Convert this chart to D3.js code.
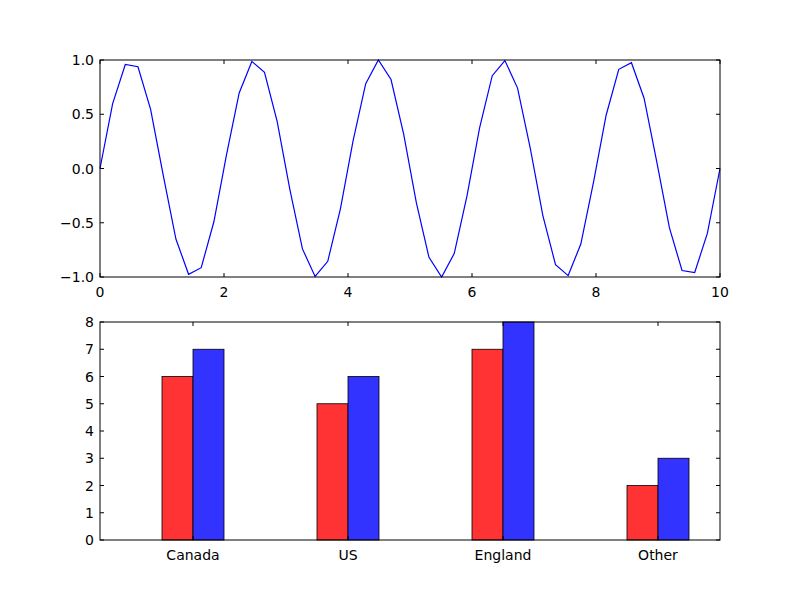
<!DOCTYPE html>
<html><head><meta charset="utf-8">
<script src="https://cdn.jsdelivr.net/npm/d3@7"></script>
<style>body{margin:0;background:#fff}text{font-family:"DejaVu Sans",sans-serif;font-size:14px}</style>
</head><body><svg id="c" width="800" height="600"></svg>
<script>
// top panel: values, x spaced 0..10 over 50 samples
const waveX = d3.range(50).map(i => i * 10 / 49);
const waveY = [0, 0.598, 0.959, 0.938, 0.545, -0.064, -0.650, -0.975, -0.914, -0.491,
  0.127, 0.696, 0.987, 0.886, 0.434, -0.190, -0.741, -0.995, -0.855, -0.372,
  0.254, 0.782, 1.0, 0.820, 0.316, -0.314, -0.819, -1.0, -0.782, -0.254,
  0.375, 0.855, 0.995, 0.741, 0.191, -0.434, -0.886, -0.987, -0.696, -0.128,
  0.491, 0.914, 0.975, 0.648, 0.064, -0.545, -0.940, -0.959, -0.598, 0];
const topXTicks = [0, 2, 4, 6, 8, 10];
const topYTicks = [-1.0, -0.5, 0.0, 0.5, 1.0];

// bottom panel
const countries = ["Canada", "US", "England", "Other"];
const redVals = [6, 5, 7, 2];
const blueVals = [7, 6, 8, 3];
const barYTicks = [0, 1, 2, 3, 4, 5, 6, 7, 8];

const svg = d3.select("#c");
const L = 100, R = 720;

function frame(g, x, y, xt, yt, xfmt, yfmt) {
    const [x0, x1] = x.range(), [y0, y1] = y.range();
    const tl = 4;
    xt.forEach(t => {
        const px = x(t);
        g.append("line").attr("x1", px).attr("x2", px).attr("y1", y0).attr("y2", y0 - tl).attr("stroke", "#000");
        g.append("line").attr("x1", px).attr("x2", px).attr("y1", y1).attr("y2", y1 + tl).attr("stroke", "#000");
        g.append("text").attr("x", px).attr("y", y0 + 20).attr("text-anchor", "middle").text(xfmt(t));
    });
    yt.forEach(t => {
        const py = y(t);
        g.append("line").attr("x1", x0).attr("x2", x0 + tl).attr("y1", py).attr("y2", py).attr("stroke", "#000");
        g.append("line").attr("x1", x1).attr("x2", x1 - tl).attr("y1", py).attr("y2", py).attr("stroke", "#000");
        g.append("text").attr("x", x0 - 6).attr("y", py + 5).attr("text-anchor", "end").text(yfmt(t));
    });
    g.append("rect").attr("x", x0).attr("y", y1).attr("width", x1 - x0).attr("height", y0 - y1)
        .attr("fill", "none").attr("stroke", "#000");
}

// top
const x1 = d3.scaleLinear().domain([0, 10]).range([L, R]);
const y1 = d3.scaleLinear().domain([-1, 1]).range([277, 60]);
const gTop = svg.append("g");
gTop.append("path").datum(waveY)
    .attr("d", d3.line().x((d, i) => x1(waveX[i])).y(d => y1(d)))
    .attr("fill", "none").attr("stroke", "#0000ff").attr("stroke-width", 1.2);
frame(gTop, x1, y1, topXTicks, topYTicks, d => d, d => d3.format(".1f")(d).replace("-", "\u2212"));

// bottom
const w = 0.2;
const x2 = d3.scaleLinear().domain([-0.4, 3.6]).range([L, R]);
const y2 = d3.scaleLinear().domain([0, 8]).range([540, 322]);
const gBot = svg.append("g");
[[redVals, 0, "#ff3333"], [blueVals, w, "#3333ff"]].forEach(([vals, off, col]) => {
    gBot.selectAll(null).data(vals).enter().append("rect")
        .attr("x", (d, i) => x2(i + off))
        .attr("width", x2(w) - x2(0))
        .attr("y", d => y2(d))
        .attr("height", d => y2(0) - y2(d))
        .attr("fill", col).attr("stroke", "#000").attr("stroke-width", 0.8);
});
frame(gBot, x2, y2, countries.map((c, i) => i + w), barYTicks, t => countries[Math.round(t - w)], d => d);
</script></body></html>
